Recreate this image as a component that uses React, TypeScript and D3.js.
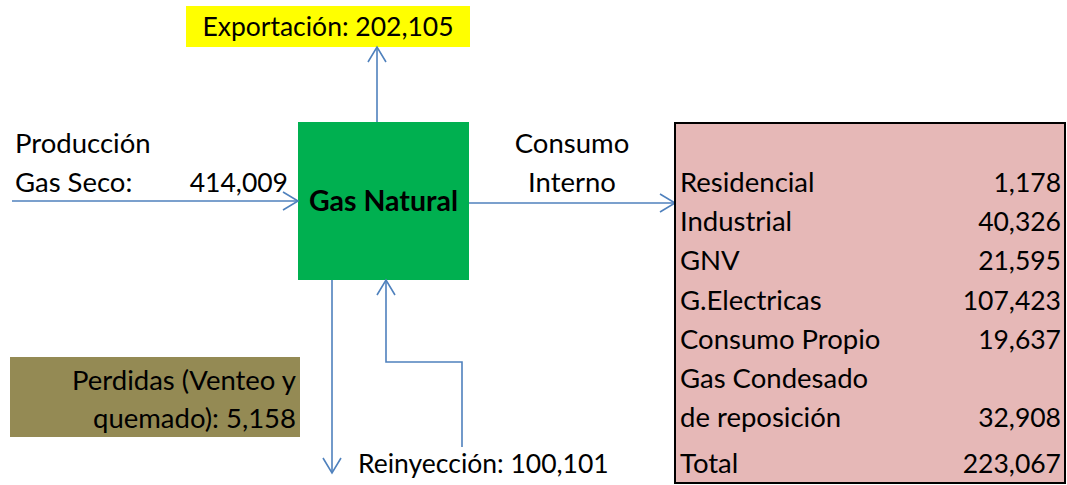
import * as d3 from "d3";

const W = 1067;
const H = 485;

// flujos (MMPC)
const flowNames = ["Producción Gas Seco", "Exportación", "Consumo Interno", "Perdidas", "Reinyección"];
const flowValues = [414009, 202105, 223067, 5158, 100101];

// tabla de consumo interno
const tableLabels = ["Residencial", "Industrial", "GNV", "G.Electricas", "Consumo Propio", "Gas Condesado", "de reposición", "Total"];
const tableValues = [1178, 40326, 21595, 107423, 19637, null, 32908, 223067];

const fmt = d3.format(",");
const FONT = "Lato, 'Open Sans', sans-serif";
const BLUE = "#4f81bd";

const Arrow = ({ points }: { points: [number, number][] }) => {
  const n = points.length;
  const [x1, y1] = points[n - 2];
  const [x2, y2] = points[n - 1];
  const a = Math.atan2(y2 - y1, x2 - x1);
  const len = 15, half = 9;
  const back = (s: number) => [
    x2 - len * Math.cos(a) + s * half * Math.sin(a),
    y2 - len * Math.sin(a) - s * half * Math.cos(a),
  ];
  const head = [back(1), [x2, y2], back(-1)];
  return (
    <g fill="none" stroke={BLUE} strokeWidth={1.6}>
      <path d={d3.line()(points) || ""} />
      <path d={d3.line()(head as [number, number][]) || ""} />
    </g>
  );
};

export default function App() {
  const v = (name: string) => fmt(flowValues[flowNames.indexOf(name)]);

  const rowY = d3.scalePoint<number>().domain(d3.range(7)).range([192, 427]);
  const yRow = (i: number) => (i < 7 ? rowY(i)! : rowY(6)! + 46);

  const box = { x: 298, y: 122, w: 171, h: 158 };
  const tbl = { x: 675, y: 123, w: 390, h: 360 };

  return (
    <svg width={W} height={H} style={{ position: "absolute", left: 0, top: 0 }} fontFamily={FONT} fontSize={27.5}>
      <rect width={W} height={H} fill="#fff" />

      {/* exportación */}
      <rect x={186} y={6} width={284} height={41} fill="#ffff00" />
      <text x={328} y={36} textAnchor="middle" fontSize={26.5}>{`Exportación: ${v("Exportación")}`}</text>
      <Arrow points={[[377, box.y], [377, 47]]} />

      {/* nodo central */}
      <rect x={box.x} y={box.y} width={box.w} height={box.h} fill="#00b050" />
      <text x={box.x + box.w / 2} y={211} textAnchor="middle" fontWeight="bold" fontSize={28.5}>Gas Natural</text>

      {/* producción */}
      <text x={15} y={153}>Producción</text>
      <text x={15} y={192}>Gas Seco:</text>
      <text x={288} y={192} textAnchor="end" fontSize={26.5}>{v("Producción Gas Seco")}</text>
      <Arrow points={[[12, 201], [box.x, 201]]} />

      {/* consumo interno */}
      <text x={572} y={153} textAnchor="middle">Consumo</text>
      <text x={572} y={192} textAnchor="middle">Interno</text>
      <Arrow points={[[box.x + box.w, 203], [tbl.x, 203]]} />

      <rect x={tbl.x} y={tbl.y} width={tbl.w} height={tbl.h} fill="#e6b8b7" stroke="#000" strokeWidth={2} />
      {tableLabels.map((lab, i) => (
        <g key={lab}>
          <text x={680} y={yRow(i)}>{lab}</text>
          {tableValues[i] != null && (
            <text x={1061} y={yRow(i)} textAnchor="end" fontSize={26.5}>{fmt(tableValues[i] as number)}</text>
          )}
        </g>
      ))}

      {/* perdidas */}
      <rect x={10} y={357} width={290} height={80} fill="#948a54" />
      <text x={296} y={390} textAnchor="end">Perdidas (Venteo y</text>
      <text x={296} y={428} textAnchor="end">{`quemado): ${v("Perdidas")}`}</text>
      <Arrow points={[[332, box.y + box.h], [332, 473]]} />

      {/* reinyección */}
      <Arrow points={[[462, 447], [462, 362], [386, 362], [386, box.y + box.h]]} />
      <text x={358} y={473} fontSize={26.5}>{`Reinyección: ${v("Reinyección")}`}</text>
    </svg>
  );
}
